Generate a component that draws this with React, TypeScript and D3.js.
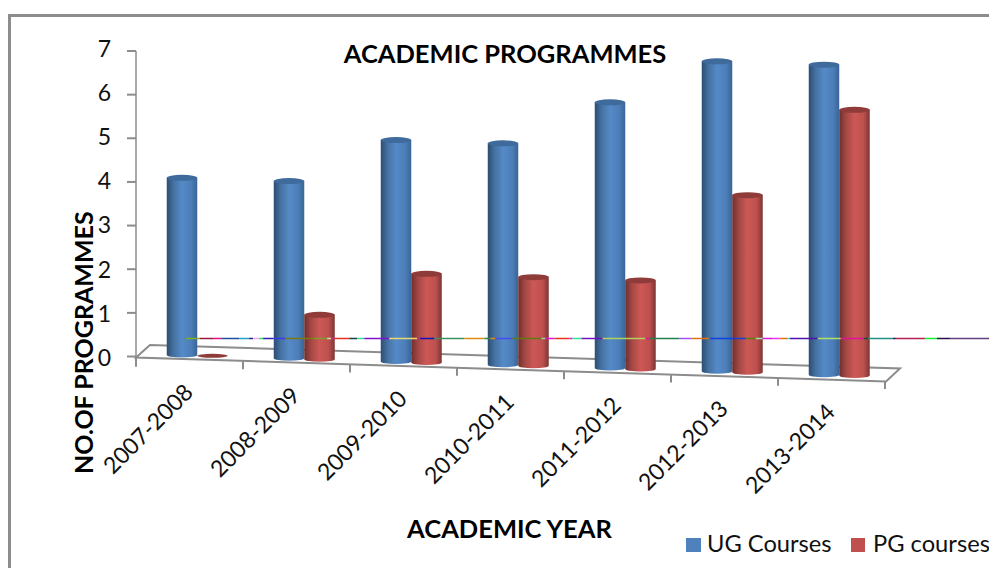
import React from 'react';
import * as d3 from 'd3';

const YEARS = ['2007-2008', '2008-2009', '2009-2010', '2010-2011', '2011-2012', '2012-2013', '2013-2014'];
const UG_COURSES = [4, 4, 5, 5, 6, 7, 7];
const PG_COURSES = [0, 1, 2, 2, 2, 4, 6];
const Y_TICKS = [0, 1, 2, 3, 4, 5, 6, 7];

// the stray multicoloured rule across the picture: colour and length of each piece, left to right
const RULE_COLORS = ['#7fae1e', '#a01540', '#e8127a', '#1a4fa0', '#2a9fc8', '#3a2080', '#e0b0f0', '#30e060', '#3020b0', '#3a3af0', '#7a7a10', '#809a30', '#d0e0a0', '#e010e0', '#e83020', '#104040', '#30e0a0', '#8010d0', '#e8d870', '#e010a0', '#1010c0', '#3a9060', '#e08a10', '#209040', '#e08a10', '#4a4af0', '#607a10', '#a0d0a0', '#e010d0', '#e83020', '#e010d0', '#30e0a0', '#7010c0', '#b0d060', '#e010a0', '#208050', '#a050f0', '#e07010', '#1040e0', '#607a10', '#a0e0a0', '#e010e0', '#f030f0', '#e07010', '#30e0a0', '#5010b0', '#b0e060', '#e010a0', '#105030', '#209080', '#102060', '#b02050', '#10f030', '#201050', '#604080'];
const RULE_LENGTHS = [14, 13, 9, 17, 10, 4, 6, 4, 10, 12, 28, 14, 4, 3, 15, 8, 7, 25, 28, 3, 14, 30, 20, 6, 5, 17, 29, 4, 9, 15, 3, 9, 21, 43, 4, 30, 12, 18, 36, 10, 7, 10, 7, 8, 2, 28, 23, 23, 4, 25, 3, 29, 12, 13, 39];

const FONT = 'Lato, "Open Sans", sans-serif';
const AXIS_GREY = '#8c8c8c';

const x = d3.scaleBand<string>().domain(YEARS).range([136, 885]);
const baseY = d3.scaleLinear().domain([136, 885]).range([358, 381]);
const heightOf = d3.scaleLinear().domain([0, 7]).range([0, 310]);
const yAxis = d3.scaleLinear().domain([0, 7]).range([356.5, 51]);
const yLabel = d3.scaleLinear().domain([0, 7]).range([360, 51]);

const ruleEnds = d3.cumsum(RULE_LENGTHS);
const ruleX = d3.scaleLinear().domain([0, ruleEnds[ruleEnds.length - 1]]).range([186, 989]);

const BAR_W = 30.5;

function Cylinder({ cx, bottom, value, grad, top }: { cx: number; bottom: number; value: number; grad: string; top: string }) {
  const h = heightOf(value);
  const rx = BAR_W / 2;
  if (value === 0) {
    return <ellipse cx={cx} cy={bottom} rx={rx} ry={2} fill={top} />;
  }
  const d = `M${cx - rx},${bottom - h} L${cx - rx},${bottom} A${rx},2.5 0 0 0 ${cx + rx},${bottom} L${cx + rx},${bottom - h} Z`;
  return (
    <g>
      <path d={d} fill={`url(#${grad})`} />
      <ellipse cx={cx} cy={bottom - h} rx={rx} ry={3} fill={top} />
    </g>
  );
}

export default function App() {
  const band = x.bandwidth();
  return (
    <svg width={989} height={568} style={{ position: 'absolute', left: 0, top: 0, background: '#fff' }} fontFamily={FONT}>
      <defs>
        <linearGradient id="ugGrad">
          <stop offset="0" stopColor="#2c4d74" />
          <stop offset="0.22" stopColor="#44719f" />
          <stop offset="0.5" stopColor="#558ac8" />
          <stop offset="0.8" stopColor="#4c7eb8" />
          <stop offset="1" stopColor="#3a6496" />
        </linearGradient>
        <linearGradient id="pgGrad">
          <stop offset="0" stopColor="#6e2e2c" />
          <stop offset="0.22" stopColor="#a34845" />
          <stop offset="0.5" stopColor="#cd5856" />
          <stop offset="0.8" stopColor="#bd504d" />
          <stop offset="1" stopColor="#7d3634" />
        </linearGradient>
      </defs>

      <path d="M9.5,568 L9.5,15.5 L989,15.5" fill="none" stroke={AXIS_GREY} strokeWidth={3} />

      {/* floor */}
      <path d="M136,357.5 L150,345 L900,368.5 L886,381.5 Z" fill="#fff" stroke={AXIS_GREY} strokeWidth={2} />

      {/* value axis */}
      <line x1={136} x2={136} y1={51} y2={367} stroke={AXIS_GREY} strokeWidth={1.5} />
      {Y_TICKS.map(t => (
        <g key={t}>
          <line x1={127} x2={136} y1={yAxis(t)} y2={yAxis(t)} stroke={AXIS_GREY} strokeWidth={2} />
          <text x={111} y={yLabel(t)} textAnchor="end" dominantBaseline="middle" fontSize={23} fill="#111">{t}</text>
        </g>
      ))}

      {/* category ticks and labels */}
      {[...YEARS.map(y => x(y) as number), 885].map((px, i) => (
        <line key={i} x1={px} x2={px} y1={baseY(px)} y2={baseY(px) + 8} stroke={AXIS_GREY} strokeWidth={2} />
      ))}
      {YEARS.map(y => {
        const px = (x(y) as number) + band / 2 + 5;
        const py = baseY(px) + 34;
        return (
          <text key={y} transform={`translate(${px},${py}) rotate(-45)`} textAnchor="end" fontSize={23} fill="#111">{y}</text>
        );
      })}

      {/* cylinders */}
      {YEARS.map((y, i) => {
        const mid = (x(y) as number) + band / 2;
        const blueX = mid - 7.5;
        const redX = blueX + BAR_W;
        return (
          <g key={y}>
            <Cylinder cx={blueX} bottom={baseY(blueX) - 4.5} value={UG_COURSES[i]} grad="ugGrad" top="#3f6a9c" />
            <Cylinder cx={redX} bottom={baseY(redX) - 4.5} value={PG_COURSES[i]} grad="pgGrad" top="#8f3b39" />
          </g>
        );
      })}

      {/* multicoloured rule */}
      {RULE_COLORS.map((c, i) => (
        <line key={i} x1={ruleX(i === 0 ? 0 : ruleEnds[i - 1])} x2={ruleX(ruleEnds[i])} y1={338.5} y2={338.5} stroke={c} strokeWidth={1.5} />
      ))}

      <text x={505} y={63} textAnchor="middle" fontSize={25.5} fontWeight={700} fill="#000">ACADEMIC PROGRAMMES</text>
      <text transform="translate(93,474) rotate(-90)" textAnchor="start" fontSize={25} fontWeight={700} fill="#000">NO.OF PROGRAMMES</text>
      <text x={509.5} y={538} textAnchor="middle" fontSize={25.5} fontWeight={700} fill="#000">ACADEMIC YEAR</text>

      {/* legend */}
      <rect x={686} y={538} width={15} height={14} fill="#4f81bd" />
      <text x={707} y={552} fontSize={23.7} fill="#111">UG Courses</text>
      <rect x={851} y={538} width={14} height={14} fill="#c0504d" />
      <text x={873} y={552} fontSize={23.7} fill="#111">PG courses</text>
    </svg>
  );
}
